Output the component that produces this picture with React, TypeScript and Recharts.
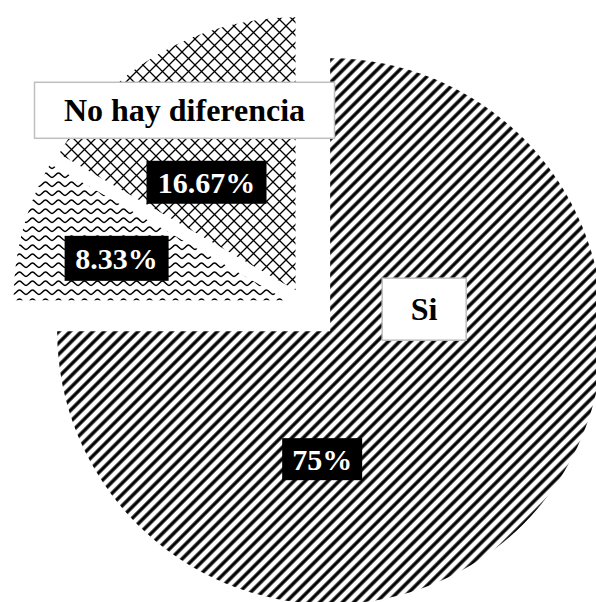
import { PieChart, Pie, Cell } from "recharts";

// slices in drawing order (clockwise from 12 o'clock)
const CATEGORIES = ["Si", "No", "No hay diferencia"];
const VALUES = [75, 8.33, 16.67];
const PCT_LABELS = ["75%", "8.33%", "16.67%"];
const SHOW_NAME = [true, false, true];

// layout / style
const W = 596;
const H = 602;
const CENTER = { x: 304, y: 305 };
const RADIUS = 273;
const EXPLODE = [37, 18, 17];
const FILLS = ["url(#stripes)", "url(#waves)", "url(#cross)"];
const NAME_BOX = [
  { dx: 94, dy: -22, w: 84, h: 62 },
  null,
  { dx: -111, dy: -180, w: 300, h: 56 },
];
const PCT_BOX = [
  { dx: -8, dy: 128, w: 80, h: 42 },
  { dx: -170, dy: -42, w: 104, h: 45 },
  { dx: -89, dy: -108, w: 120, h: 43 },
];
const FONT = "'Liberation Serif', 'Times New Roman', serif";

const data = CATEGORIES.map((name, i) => ({ name, value: VALUES[i] }));
const total = VALUES.reduce((a, b) => a + b, 0);

// each slice is pulled out along its own mid angle
const centers = VALUES.map((v, i) => {
  const before = VALUES.slice(0, i).reduce((a, b) => a + b, 0);
  const mid = 90 - (360 * (before + v / 2)) / total;
  const rad = (mid * Math.PI) / 180;
  return {
    x: CENTER.x + Math.cos(rad) * EXPLODE[i],
    y: CENTER.y - Math.sin(rad) * EXPLODE[i],
  };
});

function SliceLabels({ i, cx, cy }: { i: number; cx: number; cy: number }) {
  const nb = NAME_BOX[i];
  const pb = PCT_BOX[i];
  return (
    <g>
      {SHOW_NAME[i] && nb && (
        <g>
          <rect
            x={cx + nb.dx - nb.w / 2}
            y={cy + nb.dy - nb.h / 2}
            width={nb.w}
            height={nb.h}
            fill="#fff"
            stroke="#bfbfbf"
            strokeWidth={1.5}
          />
          <text
            x={cx + nb.dx}
            y={cy + nb.dy}
            textAnchor="middle"
            dominantBaseline="central"
            fontFamily={FONT}
            fontWeight="bold"
            fontSize={32}
            fill="#000"
          >
            {CATEGORIES[i]}
          </text>
        </g>
      )}
      <rect
        x={cx + pb.dx - pb.w / 2}
        y={cy + pb.dy - pb.h / 2}
        width={pb.w}
        height={pb.h}
        fill="#000"
      />
      <text
        x={cx + pb.dx}
        y={cy + pb.dy}
        textAnchor="middle"
        dominantBaseline="central"
        fontFamily={FONT}
        fontWeight="bold"
        fontSize={30}
        fill="#fff"
      >
        {PCT_LABELS[i]}
      </text>
    </g>
  );
}

export default function App() {
  return (
    <div
      style={{
        position: "absolute",
        left: 0,
        top: 0,
        width: W,
        height: H,
        overflow: "hidden",
        background: "#fff",
      }}
    >
      <PieChart width={W} height={H} margin={{ top: 0, right: 0, bottom: 0, left: 0 }}>
        <defs>
          <pattern id="stripes" width="8" height="8" patternUnits="userSpaceOnUse" patternTransform="rotate(45)">
            <rect width="8" height="8" fill="#fff" />
            <line x1="4" y1="0" x2="4" y2="8" stroke="#000" strokeWidth="3.4" />
          </pattern>
          <pattern id="cross" width="13" height="13" patternUnits="userSpaceOnUse">
            <rect width="13" height="13" fill="#fff" />
            <path d="M0,0 L13,13 M13,0 L0,13" stroke="#000" strokeWidth="1.3" />
          </pattern>
          <pattern id="waves" width="13" height="9" patternUnits="userSpaceOnUse">
            <rect width="13" height="9" fill="#fff" />
            <path d="M0,6.5 C2.2,6.5 4.3,2 6.5,2 C8.7,2 10.8,6.5 13,6.5" fill="none" stroke="#000" strokeWidth="1.5" />
          </pattern>
        </defs>
        {centers.map((c, i) => (
          <Pie
            key={CATEGORIES[i]}
            data={data}
            dataKey="value"
            nameKey="name"
            cx={c.x}
            cy={c.y}
            outerRadius={RADIUS}
            innerRadius={0}
            startAngle={90}
            endAngle={-270}
            stroke="none"
            labelLine={false}
            isAnimationActive={false}
            label={(p: any) =>
              p.index === i ? <SliceLabels i={i} cx={p.cx ?? c.x} cy={p.cy ?? c.y} /> : <g />
            }
          >
            {data.map((d, j) => (
              <Cell key={d.name} fill={j === i ? FILLS[j] : "none"} stroke="none" />
            ))}
          </Pie>
        ))}
      </PieChart>
    </div>
  );
}
